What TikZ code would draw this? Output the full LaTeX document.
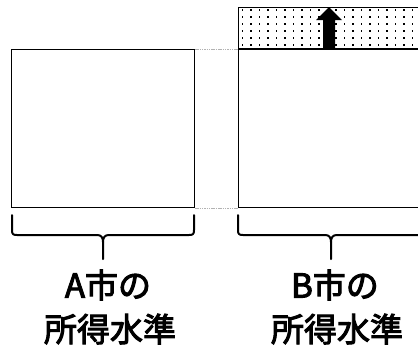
\documentclass[tikz,border=0pt]{standalone}
\usepackage{fontspec}
\newfontfamily\cjk[FakeBold=3]{Noto Sans CJK JP}
\begin{document}
\begin{tikzpicture}[x=1pt,y=-1pt,
  boxline/.style={draw=black,line width=1pt},
  bracestyle/.style={line width=2pt,line cap=round,line join=round},
  label/.style={font=\cjk\fontsize{33}{40}\selectfont,inner sep=0pt},
  gapline/.style={draw=gray!60,line width=0.8pt,dash pattern=on 1.5pt off 0.8pt}]
\useasboundingbox (0,0) rectangle (418,346);
% right dotted region
\foreach \yy in {10,17,24,31,38,45}{
  \foreach \xx in {242.5,251,259.5,268,276.5,285,293.5,302,310.5,319,327.5,336,344.5,353,361.5,370,378.5,387,395.5,404,412.5}{
    \fill (\xx-0.7,\yy-0.7) rectangle (\xx+0.7,\yy+0.7);
  }
}
\draw[line width=1pt] (238,7) -- (425,7);
% boxes
\node[boxline,minimum width=183pt,minimum height=158pt,anchor=north west,inner sep=0pt] (boxA) at (11,49) {};
\node[boxline,minimum width=190pt,minimum height=158pt,anchor=north west,inner sep=0pt] (boxB) at (238,49) {};
\draw[line width=1pt] (238,7) -- (238,49);
\draw[line width=1.8pt] (boxB.north west) -- (boxB.north east);
% gap lines
\draw[gapline] (boxA.north east) -- (boxB.north west);
\draw[gapline] (boxA.south east) -- (boxB.south west);
% block arrow
\fill (323,49) -- (323,20) -- (316,20) -- (329,7) -- (342,20) -- (335,20) -- (335,49) -- cycle;
% braces
\coordinate (a1) at (12,215);
\coordinate (a2) at (194,215);
\coordinate (b1) at (238,215);
\coordinate (b2) at (424,215);
\draw[bracestyle] (a1) -- (12,230) .. controls (12,234) and (13,235) .. (17,235) -- (97,235)
  .. controls (101,235) and (103,237) .. (103,242) -- (103,259);
\draw[bracestyle] (103,242) .. controls (103,237) and (105,235) .. (109,235) -- (189,235)
  .. controls (193,235) and (194,234) .. (194,230) -- (a2);
\draw[bracestyle] (b1) -- (238,230) .. controls (238,234) and (239,235) .. (243,235) -- (325,235)
  .. controls (329,235) and (331,237) .. (331,242) -- (331,259);
\draw[bracestyle] (331,242) .. controls (331,237) and (333,235) .. (337,235) -- (419,235)
  .. controls (423,235) and (424,234) .. (b2);
% labels
\node[label] (ta1) at (108,285) {A市の};
\node[label] (ta2) at (110,329) {所得水準};
\node[label] (tb1) at (335,285) {B市の};
\node[label] (tb2) at (337,329) {所得水準};
\end{tikzpicture}
\end{document}
